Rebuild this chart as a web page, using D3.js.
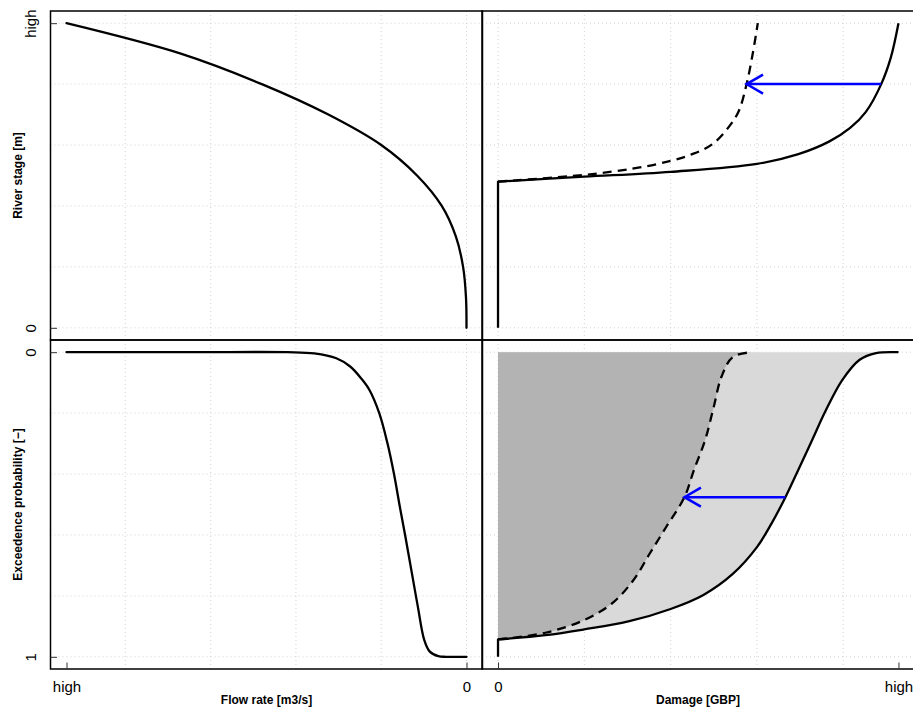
<!DOCTYPE html>
<html>
<head>
<meta charset="utf-8">
<script src="https://cdn.jsdelivr.net/npm/d3@7"></script>
<style>
  html, body { margin: 0; padding: 0; background: #fff; }
  svg { display: block; font-family: "Liberation Sans", Arial, Helvetica, sans-serif; }
</style>
</head>
<body>
<script>
// axis extents (in grid units) and where the "high" label sits
const flowHigh = 4.69;
const damageHigh = 4.64;
const stageHigh = 5;

const flowGrid = [0, 1, 2, 3, 4];
const damageGrid = [0, 1, 2, 3, 4];
const stageGrid = [0, 1, 2, 3, 4, 5];
const probGrid = [0, 0.2, 0.4, 0.6, 0.8, 1];

// top-left: rating curve, stage -> flow
const ratingStage = [0, 0.5, 1, 1.5, 2, 2.5, 3, 3.5, 4, 4.5, 5];
const ratingFlow  = [0, 0.006, 0.04, 0.125, 0.29, 0.58, 1.0, 1.62, 2.4, 3.35, 4.69];

// top-right: stage-damage, without (solid) and with (dashed) defence
const kinkStage = 2.40;
const damageStage  = [2.40, 2.48, 2.56, 2.69, 2.85, 3.06, 3.28, 3.54, 4.0, 4.43, 5.0];
const damageSolid  = [0, 1.0, 2.0, 3.0, 3.48, 3.84, 4.08, 4.26, 4.44, 4.55, 4.64];
const defenceStage = [2.40, 2.51, 2.62, 2.74, 2.85, 3.01, 3.29, 3.56, 4.0, 4.49, 5.0];
const damageDashed = [0, 1.0, 1.59, 2.0, 2.25, 2.48, 2.67, 2.79, 2.88, 2.95, 3.01];

// bottom-left: flow exceedance probability
const excFlow = [4.69, 3.2, 2.1, 1.784, 1.526, 1.364, 1.235, 1.138, 1.022, 0.926, 0.85, 0.78, 0.72, 0.64, 0.57, 0.495, 0.43, 0.33, 0.24, 0];
const excProb = [0, 0, 0, 0.004, 0.020, 0.047, 0.086, 0.124, 0.201, 0.30, 0.40, 0.51, 0.60, 0.726, 0.836, 0.945, 0.983, 0.998, 1, 1];

// bottom-right: damage exceedance probability
const kinkProb = 0.943;
const riskDamage = [0, 0.55, 1.0, 1.51, 2.0, 2.38, 2.72, 3.0, 3.17, 3.33, 3.48, 3.64, 3.80, 3.99, 4.19, 4.38, 4.64];
const riskProb   = [0.943, 0.929, 0.910, 0.884, 0.843, 0.797, 0.728, 0.640, 0.562, 0.476, 0.386, 0.288, 0.190, 0.091, 0.025, 0.003, 0];
const riskDefDamage = [0, 0.55, 1.0, 1.32, 1.57, 1.76, 1.95, 2.16, 2.27, 2.40, 2.50, 2.59, 2.72, 2.94];
const riskDefProb   = [0.943, 0.921, 0.879, 0.825, 0.748, 0.660, 0.573, 0.476, 0.387, 0.288, 0.179, 0.080, 0.016, 0];

// blue arrows: [from, to, level]
const stageArrow = [4.44, 2.88, 4.0];
const probArrow = [3.33, 2.16, 0.476];

const W = 913, H = 709;
const svg = d3.select("body").append("svg").attr("width", W).attr("height", H);

// panel boxes
const L = [50.5, 482.5], R = [482, 914.5], T = [11, 340], B = [340, 669];
const inset = ([a, b]) => { const p = (b - a) * 0.04 / 1.08; return [a + p, b - p]; };

const xFlow = d3.scaleLinear().domain([flowHigh, 0]).range(inset(L));
const xDam = d3.scaleLinear().domain([0, damageHigh]).range(inset(R));
const yStage = d3.scaleLinear().domain([0, stageHigh]).range(inset([T[1], T[0]]));
const yProb = d3.scaleLinear().domain([0, 1]).range(inset(B));

const smooth = d3.curveCatmullRom.alpha(0.5);

const GRID = "#d3d3d3";
function grid(xs, xv, ys, yv, bx, by) {
  const g = svg.append("g").attr("stroke", GRID).attr("stroke-width", 1).attr("stroke-dasharray", "1,3");
  xv.forEach(v => g.append("line").attr("x1", xs(v)).attr("x2", xs(v)).attr("y1", by[0]).attr("y2", by[1]));
  yv.forEach(v => g.append("line").attr("x1", bx[0]).attr("x2", bx[1]).attr("y1", ys(v)).attr("y2", ys(v)));
}
grid(xFlow, flowGrid, yStage, stageGrid, L, T);
grid(xDam, damageGrid, yStage, stageGrid, R, T);
grid(xFlow, flowGrid, yProb, probGrid, L, B);
grid(xDam, damageGrid, yProb, probGrid, R, B);

// shaded risk areas
const riskPts = d3.zip(riskDamage, riskProb);
const riskDefPts = d3.zip(riskDefDamage, riskDefProb);
const lineBR = d3.line().x(d => xDam(d[0])).y(d => yProb(d[1])).curve(smooth);
svg.append("path").attr("fill", "#d9d9d9")
  .attr("d", lineBR(riskPts) + `L${xDam(0)},${yProb(0)}Z`);
svg.append("path").attr("fill", "#b3b3b3")
  .attr("d", lineBR(riskDefPts) + `L${xDam(0)},${yProb(0)}Z`);

const curves = svg.append("g").attr("fill", "none").attr("stroke", "#000").attr("stroke-width", 2.3);

// top-left
curves.append("path").attr("stroke-linecap", "round")
  .attr("d", d3.line().x(d => xFlow(d[1])).y(d => yStage(d[0])).curve(smooth)(d3.zip(ratingStage, ratingFlow)));

// top-right
const lineTR = d3.line().x(d => xDam(d[0])).y(d => yStage(d[1])).curve(smooth);
curves.append("path").attr("stroke-linejoin", "round")
  .attr("d", `M${xDam(0)},${yStage(0)}L${xDam(0)},${yStage(kinkStage)}` + lineTR(d3.zip(damageSolid, damageStage)).replace(/^M/, "L"));
curves.append("path").attr("stroke-dasharray", "9,6")
  .attr("d", lineTR(d3.zip(damageDashed, defenceStage)));

// bottom-left
curves.append("path").attr("stroke-linecap", "round")
  .attr("d", d3.line().x(d => xFlow(d[0])).y(d => yProb(d[1])).curve(smooth)(d3.zip(excFlow, excProb)));

// bottom-right
curves.append("path").attr("stroke-linejoin", "round")
  .attr("d", `M${xDam(0)},${yProb(1)}L${xDam(0)},${yProb(kinkProb)}` + lineBR(riskPts).replace(/^M/, "L"));
curves.append("path").attr("stroke-dasharray", "9,6").attr("d", lineBR(riskDefPts));

// arrows
function arrow(x1, y1, x2, y2) {
  const g = svg.append("g").attr("stroke", "#0000ff").attr("stroke-width", 2.5).attr("fill", "none");
  const ang = Math.atan2(y2 - y1, x2 - x1), len = 19, sp = Math.PI / 6;
  g.append("line").attr("x1", x1).attr("y1", y1).attr("x2", x2).attr("y2", y2);
  const arm = s => [x2 - len * Math.cos(ang + s), y2 - len * Math.sin(ang + s)];
  g.append("path").attr("d", `M${arm(sp)}L${x2},${y2}L${arm(-sp)}`);
}
arrow(xDam(stageArrow[0]), yStage(stageArrow[2]), xDam(stageArrow[1]), yStage(stageArrow[2]));
arrow(xDam(probArrow[0]), yProb(probArrow[2]), xDam(probArrow[1]), yProb(probArrow[2]));

// frames
const frames = svg.append("g").attr("fill", "none").attr("stroke", "#000").attr("stroke-width", 1.5);
for (const [bx, by] of [[L, T], [R, T], [L, B], [R, B]]) {
  frames.append("rect").attr("x", bx[0]).attr("y", by[0]).attr("width", bx[1] - bx[0]).attr("height", by[1] - by[0]);
}

// axes
const FS = 15;
function styleAxis(g) {
  g.attr("font-family", null).attr("font-size", FS);
  g.select(".domain").remove();
  g.selectAll(".tick line").attr("stroke", "#333");
  g.selectAll(".tick text").attr("fill", "#000");
}
const highLabel = d => d === 0 ? "0" : "high";

svg.append("g").attr("transform", `translate(0,${B[1]})`)
  .call(d3.axisBottom(xFlow).tickValues([flowHigh, 0]).tickFormat(highLabel).tickSize(-6.5).tickPadding(12))
  .call(styleAxis);
svg.append("g").attr("transform", `translate(0,${B[1]})`)
  .call(d3.axisBottom(xDam).tickValues([0, damageHigh]).tickFormat(highLabel).tickSize(-6.5).tickPadding(12))
  .call(styleAxis);

function leftAxis(scale, vals, fmt) {
  const g = svg.append("g").attr("transform", `translate(${L[0]},0)`)
    .call(d3.axisLeft(scale).tickValues(vals).tickFormat(fmt).tickSize(-6.5))
    .call(styleAxis);
  g.selectAll(".tick text")
    .attr("x", null).attr("dy", "0.32em").attr("text-anchor", "middle")
    .attr("transform", "translate(-19.5,0) rotate(-90)");
}
leftAxis(yStage, [0, stageHigh], highLabel);
leftAxis(yProb, [0, 1], d3.format("d"));

// axis titles
const titles = svg.append("g").attr("font-size", 12).attr("font-weight", "bold").attr("text-anchor", "middle");
titles.append("text").attr("x", d3.mean(inset(L))).attr("y", 704).text("Flow rate [m3/s]");
titles.append("text").attr("x", 698).attr("y", 704).text("Damage [GBP]");
titles.append("text").attr("transform", `translate(22,${d3.mean(T)}) rotate(-90)`).text("River stage [m]");
titles.append("text").attr("transform", `translate(22,${d3.mean(B)}) rotate(-90)`).text("Exceedence probability [\u2212]");
</script>
</body>
</html>
